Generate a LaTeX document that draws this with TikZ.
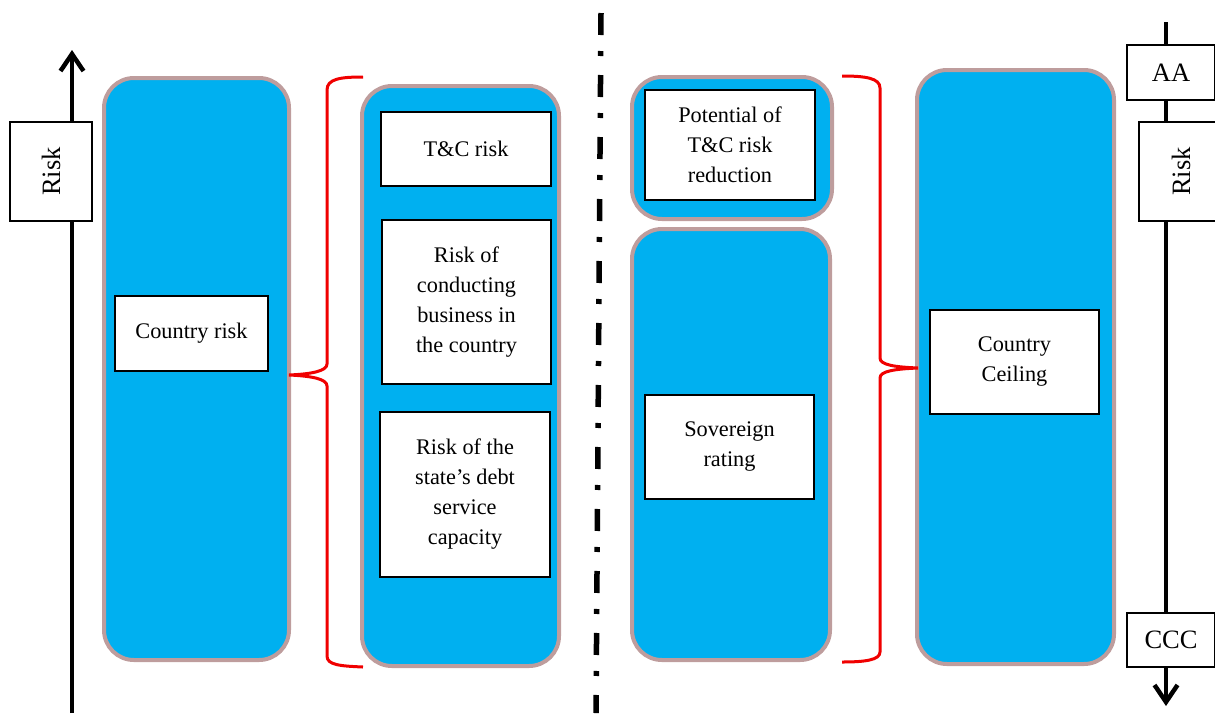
\documentclass[tikz,border=0pt]{standalone}
\usepackage{fontspec}
\setmainfont{Liberation Serif}
\usetikzlibrary{arrows.meta}
\definecolor{boxblue}{HTML}{00B0F0}
\definecolor{boxrim}{HTML}{BE9D9D}
\definecolor{bracered}{HTML}{F00000}
\tikzset{
  container/.style={draw=boxrim, fill=boxblue, line width=4pt, rounded corners=30pt, inner sep=0pt},
  whitebox/.style={draw=black, fill=white, line width=1.5pt, align=center, inner sep=0pt,
     font=\fontsize{22.3}{30}\selectfont},
  scalebox/.style={draw=black, fill=white, line width=1.3pt, inner sep=0pt, align=center,
     font=\fontsize{26.5}{30}\selectfont},
  axis/.style={line width=4pt},
  brace/.style={draw=bracered, line width=3pt},
  sep/.style={line width=5.5pt, dash pattern=on 22pt off 16pt on 5pt off 19pt}
}
\begin{document}
\begin{tikzpicture}[x=1pt,y=-1pt]
\useasboundingbox (0,0) rectangle (1215,713);
\clip (0,0) rectangle (1215,713);
% left axis
\coordinate (la1) at (72,713);
\coordinate (la2) at (72,50);
\draw[axis, -{Straight Barb[length=17pt,width=23pt,line width=4.5pt]}] (la1) -- (la2);
\node[scalebox, minimum width=82pt, minimum height=99pt] (lrisk) at (51,171.5) {\rotatebox{90}{Risk}};
% separator
\coordinate (s1) at (601,13);
\coordinate (s2) at (596,713);
\draw[sep] (s1) -- (s2);
% right axis
\coordinate (ra1) at (1166,22);
\coordinate (ra2) at (1166,706);
\draw[axis, -{Straight Barb[length=17pt,width=23pt,line width=4.5pt]}] (ra1) -- (ra2);
\node[scalebox, minimum width=88pt, minimum height=55pt] (aa) at (1171,72.5) {AA};
\node[scalebox, minimum width=84pt, minimum height=99pt] (rrisk) at (1181,171.5) {\rotatebox{90}{Risk}};
\node[scalebox, minimum width=88pt, minimum height=54pt] (ccc) at (1171,640) {CCC};
% containers
\node[container, minimum width=185pt, minimum height=582pt] (c1) at (196.5,369) {};
\node[container, minimum width=197pt, minimum height=580pt] (c2) at (460.5,376) {};
\node[container, minimum width=200pt, minimum height=142pt] (c3) at (732,148) {};
\node[container, minimum width=198pt, minimum height=431pt] (c4) at (731,444.5) {};
\node[container, minimum width=197pt, minimum height=594pt] (c5) at (1015.5,367) {};
% inner boxes
\node[whitebox, minimum width=153pt, minimum height=75pt] (cr) at (191.5,333.5) {Country risk};
\node[whitebox, minimum width=170pt, minimum height=74pt] (tc) at (466,149) {T\&C risk};
\node[whitebox, minimum width=169pt, minimum height=164pt] (rb) at (466.5,302) {Risk of\\conducting\\business in\\the country};
\node[whitebox, minimum width=170pt, minimum height=165pt] (rs) at (465,494.5) {Risk of the\\state’s debt\\service\\capacity};
\node[whitebox, minimum width=170pt, minimum height=110pt] (pt) at (730,145) {Potential of\\T\&C risk\\reduction};
\node[whitebox, minimum width=169pt, minimum height=104pt] (sr) at (729.5,447) {Sovereign\\rating};
\node[whitebox, minimum width=169pt, minimum height=104pt] (cc) at (1014.5,362) {Country\\Ceiling};
% braces
\draw[brace] (363,77) .. controls (340,77) and (327,79) .. (327,90) -- (327,364)
  .. controls (327,371) and (312,374) .. (289,375)
  .. controls (312,376) and (327,379) .. (327,386) -- (327,656)
  .. controls (327,665) and (340,666) .. (363,667);
\draw[brace] (842,76) .. controls (865,76) and (880,78) .. (880,88) -- (880,358)
  .. controls (880,365) and (895,367) .. (918,368)
  .. controls (895,369) and (880,371) .. (880,378) -- (880,652)
  .. controls (880,660) and (865,662) .. (842,662);
\end{tikzpicture}
\end{document}
